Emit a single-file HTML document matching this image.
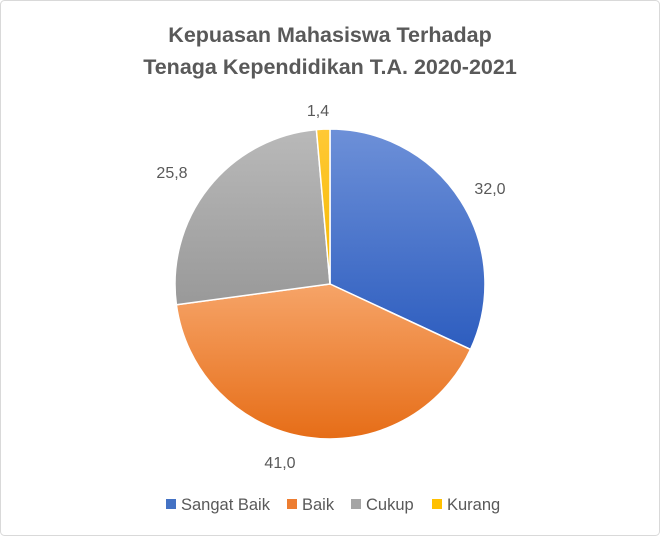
<!DOCTYPE html>
<html><head><meta charset="utf-8"><style>
html,body{margin:0;padding:0;background:#fff;}
body{width:660px;height:536px;overflow:hidden;}
</style></head><body>
<svg width="660" height="536" viewBox="0 0 660 536" xmlns="http://www.w3.org/2000/svg" font-family="Liberation Sans, sans-serif">
<defs>
<linearGradient id="gb" x1="0" y1="0" x2="0" y2="1"><stop offset="0" stop-color="#6d90d8"/><stop offset="1" stop-color="#2d5dbf"/></linearGradient>
<linearGradient id="go" x1="0" y1="0" x2="0" y2="1"><stop offset="0" stop-color="#f6a468"/><stop offset="1" stop-color="#e66d17"/></linearGradient>
<linearGradient id="gg" x1="0" y1="0" x2="0" y2="1"><stop offset="0" stop-color="#b9b9b9"/><stop offset="1" stop-color="#999"/></linearGradient>
<linearGradient id="gy" x1="0" y1="0" x2="0" y2="1"><stop offset="0" stop-color="#ffc935"/><stop offset="1" stop-color="#f5b800"/></linearGradient>
</defs>
<rect x="0.5" y="0.5" width="659" height="535" rx="4" fill="#fff" stroke="#d9d9d9"/>
<text x="330" y="42" text-anchor="middle" font-size="21.5" font-weight="bold" fill="#595959">Kepuasan Mahasiswa Terhadap</text>
<text x="330" y="74" text-anchor="middle" font-size="21.5" font-weight="bold" fill="#595959">Tenaga Kependidikan T.A. 2020-2021</text>
<g stroke="#fff" stroke-width="1.5">
<path d="M330,284 L330,129 A155,155 0 0 1 470.5,349.4 Z" fill="url(#gb)"/>
<path d="M330,284 L470.5,349.4 A155,155 0 0 1 176.4,304.8 Z" fill="url(#go)"/>
<path d="M330,284 L176.4,304.8 A155,155 0 0 1 316.4,129.6 Z" fill="url(#gg)"/>
<path d="M330,284 L316.4,129.6 A155,155 0 0 1 330,129 Z" fill="url(#gy)"/>
</g>
<g font-size="16" fill="#595959">
<text x="490" y="194" text-anchor="middle">32,0</text>
<text x="280" y="468" text-anchor="middle">41,0</text>
<text x="172" y="178" text-anchor="middle">25,8</text>
<text x="318" y="116" text-anchor="middle">1,4</text>
</g>
<g font-size="16.5" fill="#595959">
<rect x="166" y="499" width="10" height="10" fill="#4472c4"/><text x="181" y="510">Sangat Baik</text>
<rect x="287" y="499" width="10" height="10" fill="#ed7d31"/><text x="302" y="510">Baik</text>
<rect x="351" y="499" width="10" height="10" fill="#a5a5a5"/><text x="366" y="510">Cukup</text>
<rect x="432" y="499" width="10" height="10" fill="#ffc000"/><text x="447" y="510">Kurang</text>
</g>
</svg>
</body></html>
